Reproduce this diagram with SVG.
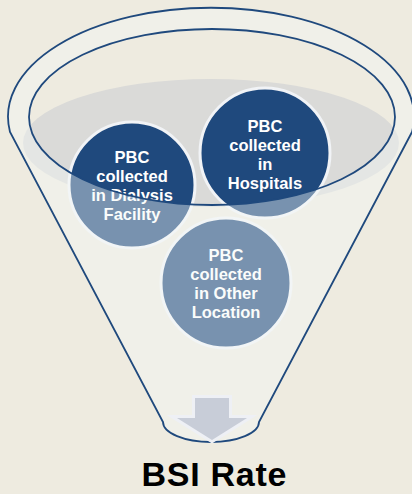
<svg xmlns="http://www.w3.org/2000/svg" width="412" height="494" viewBox="0 0 412 494">
  <defs>
    <style>
      .rim { fill: none; stroke: #1F497D; stroke-width: 1.8; }
      .ball { fill: #1F497D; stroke: #F1F3F6; stroke-width: 3; }
      .ball-text { font-family: "Liberation Sans", Arial, sans-serif; font-weight: bold; font-size: 16.5px; fill: #FFFFFF; text-anchor: middle; }
      .title { font-family: "Liberation Sans", Arial, sans-serif; font-weight: bold; font-size: 34px; fill: #000000; text-anchor: middle; }
    </style>
  </defs>

  <!-- page -->
  <rect x="0" y="0" width="412" height="494" fill="#EEEBE0"/>

  <!-- funnel back: liquid surface inside the mouth -->
  <g id="funnel-back">
    <ellipse cx="211" cy="143" rx="188" ry="64" fill="#DADAD8"/>
  </g>

  <!-- items sitting in the funnel -->
  <g id="node-dialysis">
    <circle class="ball" cx="132" cy="185" r="63"/>
    <text class="ball-text" x="132" y="163">PBC</text>
    <text class="ball-text" x="132" y="182">collected</text>
    <text class="ball-text" x="132" y="201">in Dialysis</text>
    <text class="ball-text" x="132" y="220">Facility</text>
  </g>

  <g id="node-hospitals">
    <circle class="ball" cx="265" cy="153" r="65"/>
    <text class="ball-text" x="265" y="132">PBC</text>
    <text class="ball-text" x="265" y="151">collected</text>
    <text class="ball-text" x="265" y="170">in</text>
    <text class="ball-text" x="265" y="189">Hospitals</text>
  </g>

  <g id="node-other">
    <circle class="ball" cx="226" cy="283" r="65"/>
    <text class="ball-text" x="226" y="261">PBC</text>
    <text class="ball-text" x="226" y="280">collected</text>
    <text class="ball-text" x="226" y="299">in Other</text>
    <text class="ball-text" x="226" y="318">Location</text>
  </g>

  <!-- funnel front: translucent cone with the mouth cut out, then outlines -->
  <g id="funnel-front">
    <path fill="#F3F7F6" fill-opacity="0.42" fill-rule="evenodd"
          d="M10 132 A203 109 0 1 1 412 132 L259 422 A48 20 0 0 1 163 422 Z
             M29 117 A183 88 0 1 0 395 117 A183 88 0 1 0 29 117 Z"/>
    <path class="rim" d="M10 132 A203 109 0 1 1 412 132 L259 422 A48 20 0 0 1 163 422 Z"/>
    <ellipse class="rim" cx="212" cy="117" rx="183" ry="88"/>
  </g>

  <!-- output arrow -->
  <g id="connectors">
    <path d="M195 398 H229 V418 H247 L212 440 L177 418 H195 Z"
          fill="#C8CDD8" stroke="#EEF0F5" stroke-width="6" paint-order="stroke" stroke-linejoin="miter"/>
  </g>

  <g id="label">
    <text class="title" x="214" y="486" textLength="145" lengthAdjust="spacing">BSI Rate</text>
  </g>
</svg>
